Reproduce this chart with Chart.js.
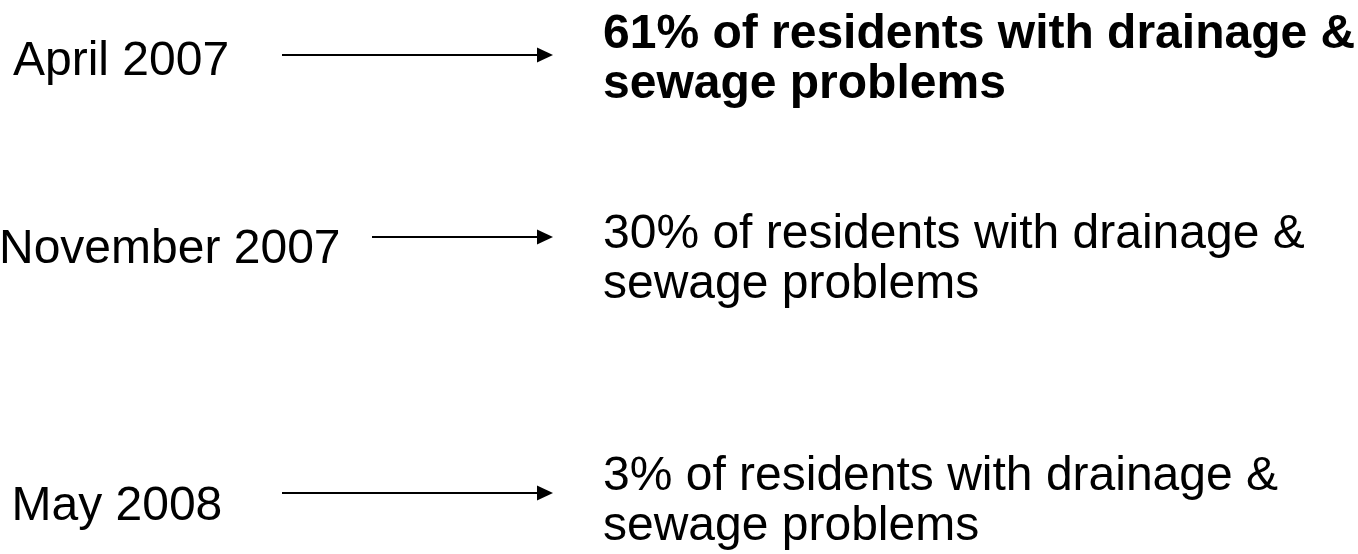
<!DOCTYPE html>
<html><head><meta charset="utf-8">
<script src="https://cdn.jsdelivr.net/npm/chart.js@4"></script>
<style>html,body{margin:0;padding:0;background:#fff;overflow:hidden}canvas{display:block}</style>
</head><body>
<canvas id="c" width="1358" height="554"></canvas>
<script>
// ---- data ----
const categories = ['April 2007', 'November 2007', 'May 2008'];
const percentValues = [61, 30, 3];
const descriptionLine1 = 'of residents with drainage &';
const descriptionLine2 = 'sewage problems';
const highlighted = [true, false, false];

// ---- layout (values on the chart's own linear pixel-like scales) ----
const W = 1358, H = 554;
const rowArrowY = [55, 237, 493];
const rowLabelBaseline = [75, 263, 520];
const rowTextBaseline = [48, 248, 490];
const labelX = [13, -1, 11.5];
const arrowStartX = [282, 372, 282];
const arrowTipX = 553;
const headLen = 16, headHalf = 7.5;
const textX = 603;
const lineGap = 50;
const fontPx = 48;
const fontFamily = '"Liberation Sans", Arial, Helvetica, sans-serif';

const textPlugin = {
  id: 'rowText',
  afterDraw(chart) {
    const {ctx, scales: {x, y}} = chart;
    ctx.save();
    ctx.fillStyle = '#000';
    ctx.textBaseline = 'alphabetic';
    ctx.textAlign = 'left';
    categories.forEach((cat, i) => {
      ctx.font = `${fontPx}px ${fontFamily}`;
      ctx.fillText(cat, x.getPixelForValue(labelX[i]), y.getPixelForValue(rowLabelBaseline[i]));
      ctx.font = `${highlighted[i] ? 'bold ' : ''}${fontPx}px ${fontFamily}`;
      ctx.fillText(`${percentValues[i]}% ${descriptionLine1}`, x.getPixelForValue(textX), y.getPixelForValue(rowTextBaseline[i]));
      ctx.fillText(descriptionLine2, x.getPixelForValue(textX), y.getPixelForValue(rowTextBaseline[i] + lineGap));
    });
    ctx.restore();
  }
};

const arrowHeadPlugin = {
  id: 'arrowHeads',
  afterDatasetsDraw(chart) {
    const {ctx, scales: {x, y}} = chart;
    ctx.save();
    ctx.fillStyle = '#000';
    categories.forEach((cat, i) => {
      const tx = x.getPixelForValue(arrowTipX);
      const bx = x.getPixelForValue(arrowTipX - headLen);
      const cy = y.getPixelForValue(rowArrowY[i]);
      const top = y.getPixelForValue(rowArrowY[i] - headHalf);
      const bot = y.getPixelForValue(rowArrowY[i] + headHalf);
      ctx.beginPath();
      ctx.moveTo(tx, cy);
      ctx.lineTo(bx, top);
      ctx.lineTo(bx, bot);
      ctx.closePath();
      ctx.fill();
    });
    ctx.restore();
  }
};

new Chart(document.getElementById('c').getContext('2d'), {
  type: 'scatter',
  data: {
    datasets: categories.map((cat, i) => ({
      label: cat,
      data: [{x: arrowStartX[i], y: rowArrowY[i]}, {x: arrowTipX - headLen + 1, y: rowArrowY[i]}],
      showLine: true,
      borderColor: '#000',
      borderWidth: 2,
      pointRadius: 0,
      fill: false
    }))
  },
  options: {
    responsive: false,
    animation: false,
    devicePixelRatio: 1,
    events: [],
    layout: {padding: 0},
    scales: {
      x: {type: 'linear', min: 0, max: W, display: false},
      y: {type: 'linear', min: 0, max: H, reverse: true, display: false}
    },
    plugins: {legend: {display: false}, tooltip: {enabled: false}, title: {display: false}}
  },
  plugins: [textPlugin, arrowHeadPlugin]
});
</script>
</body></html>
